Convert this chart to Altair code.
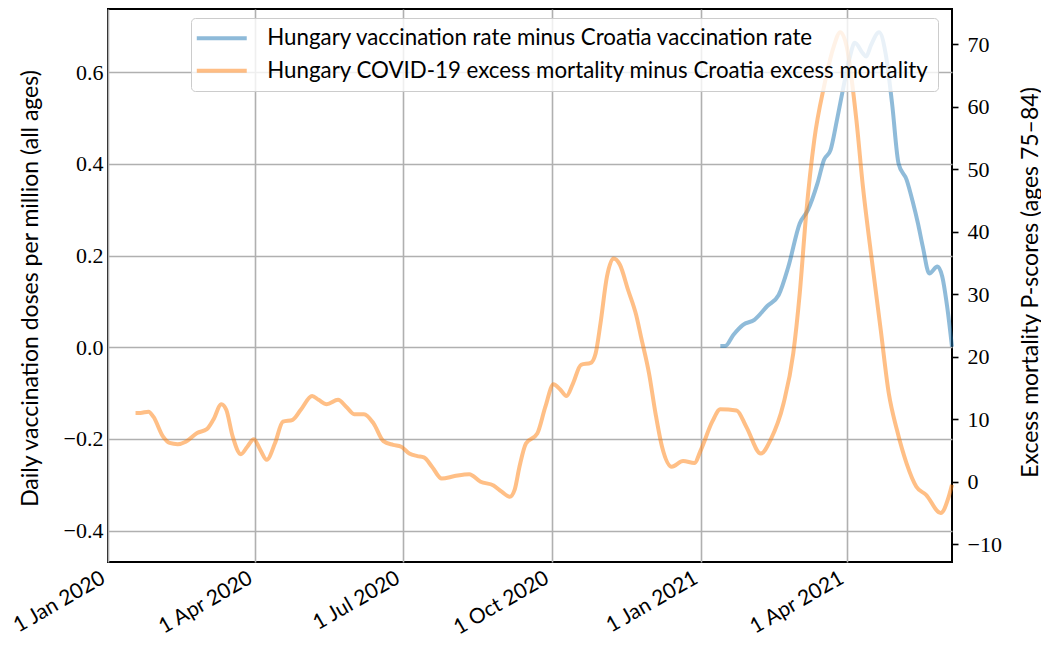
import altair as alt
import pandas as pd

BLUE_LABEL = "Hungary vaccination rate minus Croatia vaccination rate"
ORANGE_LABEL = "Hungary COVID-19 excess mortality minus Croatia excess mortality"

excess_dates = ["2020-01-18", "2020-01-21", "2020-01-26", "2020-01-29", "2020-02-04", "2020-02-08",
                "2020-02-13", "2020-02-18", "2020-02-25", "2020-03-02", "2020-03-06", "2020-03-11",
                "2020-03-14", "2020-03-18", "2020-03-23", "2020-03-27", "2020-03-31", "2020-04-04",
                "2020-04-08", "2020-04-13", "2020-04-18", "2020-04-24", "2020-04-29", "2020-05-06",
                "2020-05-10", "2020-05-15", "2020-05-22", "2020-05-27", "2020-06-01", "2020-06-07",
                "2020-06-13", "2020-06-19", "2020-06-25", "2020-06-30", "2020-07-05", "2020-07-10",
                "2020-07-14", "2020-07-19", "2020-07-25", "2020-08-02", "2020-08-11", "2020-08-18",
                "2020-08-26", "2020-08-31", "2020-09-05", "2020-09-08", "2020-09-11", "2020-09-15",
                "2020-09-22", "2020-09-27", "2020-10-02", "2020-10-06", "2020-10-10", "2020-10-14",
                "2020-10-19", "2020-10-25", "2020-10-28", "2020-10-31", "2020-11-04", "2020-11-08",
                "2020-11-12", "2020-11-17", "2020-11-22", "2020-11-25", "2020-11-30", "2020-12-04",
                "2020-12-08", "2020-12-14", "2020-12-21", "2020-12-28", "2021-01-01", "2021-01-08",
                "2021-01-13", "2021-01-23", "2021-01-29", "2021-02-07", "2021-02-13", "2021-02-21",
                "2021-02-27", "2021-03-03", "2021-03-07", "2021-03-12", "2021-03-18", "2021-03-24",
                "2021-03-28", "2021-04-01", "2021-04-07", "2021-04-11", "2021-04-16", "2021-04-22",
                "2021-04-27", "2021-05-02", "2021-05-08", "2021-05-14", "2021-05-20", "2021-05-29",
                "2021-06-03", "2021-06-05"]
excess_values = [11.0, 11.0, 11.2, 10.4, 7.2, 6.2, 6.0, 6.4, 7.8, 8.4, 9.9, 12.4,
                 11.5, 7.2, 4.4, 5.6, 6.8, 5.1, 3.5, 6.1, 9.6, 9.9, 11.5, 13.7,
                 13.1, 12.4, 13.1, 12.0, 10.8, 10.8, 9.3, 6.5, 5.9, 5.6, 4.5, 4.1,
                 3.9, 2.4, 0.5, 0.9, 1.2, 0.0, -0.6, -1.6, -2.4, -1.3, 2.4, 6.1,
                 7.7, 12.0, 15.6, 14.8, 13.7, 15.7, 18.7, 19.0, 20.5, 25.3, 32.8, 35.7,
                 34.7, 30.7, 26.7, 23.2, 17.3, 10.9, 5.6, 2.4, 3.3, 3.0, 5.1, 9.6,
                 11.6, 11.4, 8.8, 4.5, 6.7, 12.5, 20.5, 30.1, 42.9, 54.7, 63.2, 69.6,
                 71.9, 69.6, 57.8, 47.2, 36.5, 24.3, 14.1, 8.3, 2.9, -0.8, -2.1, -5.0,
                 -2.4, -0.5]

vacc_dates = ["2021-01-13", "2021-01-16", "2021-01-21", "2021-01-27", "2021-02-03", "2021-02-11",
              "2021-02-18", "2021-02-24", "2021-03-03", "2021-03-08", "2021-03-14", "2021-03-18",
              "2021-03-22", "2021-03-26", "2021-03-30", "2021-04-03", "2021-04-06", "2021-04-11",
              "2021-04-13", "2021-04-16", "2021-04-21", "2021-04-25", "2021-04-29", "2021-05-03",
              "2021-05-08", "2021-05-12", "2021-05-15", "2021-05-18", "2021-05-22", "2021-05-27",
              "2021-05-30", "2021-06-02", "2021-06-05"]
vacc_values = [0.003, 0.003, 0.027, 0.049, 0.060, 0.090, 0.114, 0.176, 0.270, 0.299, 0.358, 0.409,
               0.430, 0.496, 0.568, 0.634, 0.664, 0.641, 0.634, 0.659, 0.687, 0.641, 0.532, 0.401,
               0.365, 0.314, 0.270, 0.219, 0.161, 0.176, 0.154, 0.089, 0.001]

x_tick_dates = ["2020-01-01", "2020-04-01", "2020-07-01", "2020-10-01", "2021-01-01", "2021-04-01"]
x_range = ["2020-01-01", "2021-06-05"]
left_ticks = [-0.4, -0.2, 0.0, 0.2, 0.4, 0.6]
left_range = [-0.4683, 0.7378]
right_ticks = [-10, 0, 10, 20, 30, 40, 50, 60, 70]
right_range = [-12.84, 75.6]


def dt(s):
    t = pd.Timestamp(s)
    return alt.DateTime(year=t.year, month=t.month, date=t.day)


vacc_df = pd.DataFrame({"date": vacc_dates, "value": vacc_values, "series": BLUE_LABEL})
excess_df = pd.DataFrame({"date": excess_dates, "value": excess_values, "series": ORANGE_LABEL})

SANS = "Lato"
SERIF = "Liberation Serif"

x_enc = alt.X(
    "date:T",
    scale=alt.Scale(domain=[dt(s) for s in x_range]),
    axis=alt.Axis(
        values=[dt(s) for s in x_tick_dates], format="%-d %b %Y", labelAngle=330,
        labelAlign="right", labelBaseline="bottom", labelPadding=23, ticks=False,
        domain=False, grid=True, gridColor="#b0b0b0", gridWidth=1.6, title=None,
        labelFont=SANS, labelFontSize=21, labelColor="black",
    ),
)

color_enc = alt.Color(
    "series:N",
    scale=alt.Scale(domain=[BLUE_LABEL, ORANGE_LABEL], range=["#1f77b4", "#ff7f0e"]),
    legend=alt.Legend(
        title=None, orient="none", legendX=83, legendY=9, direction="vertical",
        fillColor="rgba(255,255,255,0.8)", strokeColor="#cccccc", cornerRadius=4,
        padding=9, labelFont=SANS, labelFontSize=22.3, labelLimit=1000, labelColor="black",
        symbolType="M-2.3,0L5.7,0", symbolSize=156, symbolStrokeWidth=4, symbolOpacity=0.5,
        labelOffset=45, rowPadding=9.5,
    ),
)

blue = alt.Chart(vacc_df).mark_line(strokeWidth=4, opacity=0.5, interpolate="monotone").encode(
    x=x_enc,
    y=alt.Y(
        "value:Q",
        scale=alt.Scale(domain=left_range, nice=False, zero=False),
        axis=alt.Axis(
            orient="left", values=left_ticks, format=".1f", ticks=False, domain=False,
            grid=True, gridColor="#b0b0b0", gridWidth=1.6, labelPadding=5,
            labelFont=SERIF, labelFontSize=22, labelColor="black",
            title="Daily vaccination doses per million (all ages)",
            titleFont=SANS, titleFontSize=23, titleFontWeight="normal", titleColor="black",
            titleAngle=270, titleBaseline="middle", titleX=-78, titleY=279,
        ),
    ),
    color=color_enc,
)

orange = alt.Chart(excess_df).mark_line(strokeWidth=4, opacity=0.5, interpolate="monotone").encode(
    x=x_enc,
    y=alt.Y(
        "value:Q",
        scale=alt.Scale(domain=right_range, nice=False, zero=False),
        axis=alt.Axis(
            orient="right", values=right_ticks, format="d", ticks=True, tickSize=6,
            tickWidth=1.6, tickColor="black", domain=False, grid=False, labelPadding=9,
            labelFont=SERIF, labelFontSize=22, labelColor="black",
            title="Excess mortality P-scores (ages 75\u201384)",
            titleFont=SANS, titleFontSize=23, titleFontWeight="normal", titleColor="black",
            titleAngle=270, titleBaseline="middle", titleX=78, titleY=273,
        ),
    ),
    color=color_enc,
)

chart = (
    alt.layer(blue, orange)
    .resolve_scale(y="independent")
    .properties(
        width=844, height=553,
        autosize=alt.AutoSizeParams(type="none"),
        padding={"left": 100, "top": 1, "right": 89, "bottom": 80},
    )
    .configure_view(stroke="black", strokeWidth=2)
)

chart.save("out.html", embed_options={"renderer": "svg", "actions": False})
